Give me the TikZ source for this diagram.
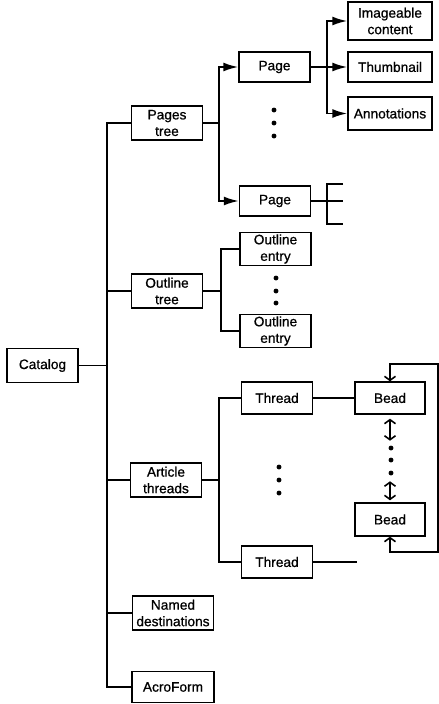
\documentclass[tikz,border=0pt]{standalone}
\usepackage{fontspec}
\setmainfont{Liberation Sans}
\newfontfamily\boxfont[FakeBold=0.8]{Liberation Sans}
\usetikzlibrary{positioning,arrows.meta}

\begin{document}
\begin{tikzpicture}[
x=0.02cm,y=-0.02cm,
box/.style={
rectangle,draw,line width=0.8pt,
align=center,inner sep=1pt,
font=\boxfont\fontsize{7.8}{9.4}\selectfont,
minimum width=1.42cm,
minimum height=0.64cm
},
line/.style={line width=1.1pt},
arrow/.style={line width=1.1pt,-{Latex[length=0.3cm,width=0.18cm]}},
barb/.style={line width=0.9pt,{Straight Barb[length=0.8mm,width=2.2mm]}-{Straight Barb[length=0.8mm,width=2.2mm]}}
]
\useasboundingbox (0,0) rectangle (439,704);

% ROOT
\node[box,minimum height=0.68cm] (catalog) at (42.5,365.5) {Catalog};

% FIRST LEVEL
\node[box,minimum height=0.68cm] (pages) at (167,123) {Pages\\tree};
\node[box,minimum height=0.68cm] (outline) at (167,291) {Outline\\tree};
\node[box,minimum height=0.68cm] (threads) at (166,480) {Article\\threads};
\node[box,minimum width=1.62cm,minimum height=0.68cm] (named) at (173,613) {Named\\destinations};
\node[box,minimum width=1.64cm,minimum height=0.62cm] (acro) at (173,687) {AcroForm};

% PAGES
\node[box,minimum height=0.6cm] (page1) at (274.5,67) {Page};
\node[box,minimum height=0.6cm] (page2) at (275,201) {Page};
\node[box,minimum width=1.68cm,minimum height=0.76cm] (content) at (390,21) {Imageable\\content};
\node[box,minimum width=1.68cm,minimum height=0.6cm] (thumb) at (390,67) {Thumbnail};
\node[box,minimum width=1.68cm,minimum height=0.66cm] (annots) at (390,113.5) {Annotations};

% OUTLINES
\node[box] (entry1) at (275.5,249) {Outline\\entry};
\node[box] (entry2) at (275.5,331) {Outline\\entry};

% THREADS
\node[box] (thread1) at (277,398) {Thread};
\node[box] (thread2) at (277,562) {Thread};
\node[box,minimum width=1.4cm] (bead1) at (390,398) {Bead};
\node[box,minimum width=1.4cm,minimum height=0.66cm] (bead2) at (390,519.5) {Bead};

% FORK POINTS
\coordinate (trunk) at (107,365.5);
\coordinate (pfork) at (219,123);
\coordinate (cfork) at (327,67);
\coordinate (bfork) at (327,201);
\coordinate (btop) at (343,184);
\coordinate (bbot) at (343,224);
\coordinate (ofork) at (221,291);
\coordinate (tfork) at (219,480);
\coordinate (tend) at (357,562);
\coordinate (looptop) at (438,364);
\coordinate (loopbot) at (438,552);

% ARROWS
\draw[line] (catalog.east) -- (trunk);
\draw[line] (pages.west) -| (trunk) |- (acro.west);
\foreach \n in {outline,threads,named}
  \draw[line] (\n.west) -- (\n.west -| trunk);

\draw[line] (pages.east) -- (pfork);
\draw[arrow] (pfork) |- (page1.west);
\draw[arrow] (pfork) |- (page2.west);

\draw[arrow] (page1.east) -- (thumb.west);
\draw[arrow] (cfork) |- (content.west);
\draw[arrow] (cfork) |- (annots.west);

\draw[line] (page2.east) -- (bfork -| btop);
\draw[line] (btop) -| (bfork) |- (bbot);

\draw[line] (outline.east) -- (ofork);
\draw[line] (entry1.west) -| (ofork) |- (entry2.west);

\draw[line] (threads.east) -- (tfork);
\draw[line] (thread1.west) -| (tfork) |- (thread2.west);
\draw[line] (thread1.east) -- (bead1.west);
\draw[line] (thread2.east) -- (tend);

\draw[barb] (bead1.north) |- (looptop) -- (loopbot) -| (bead2.south);
\draw[barb] (bead1.south) ++(0,4) -- ++(0,22);
\draw[barb] (bead2.north) ++(0,-21) -- ++(0,19);

% DOTS
\foreach \y in {110,123,136} \fill (274,\y) circle (1.4pt);
\foreach \y in {278,291,303} \fill (276,\y) circle (1.4pt);
\foreach \y in {467,480,493} \fill (279,\y) circle (1.4pt);
\foreach \y in {448,460,473} \fill (391,\y) circle (1.4pt);

\end{tikzpicture}
\end{document}
